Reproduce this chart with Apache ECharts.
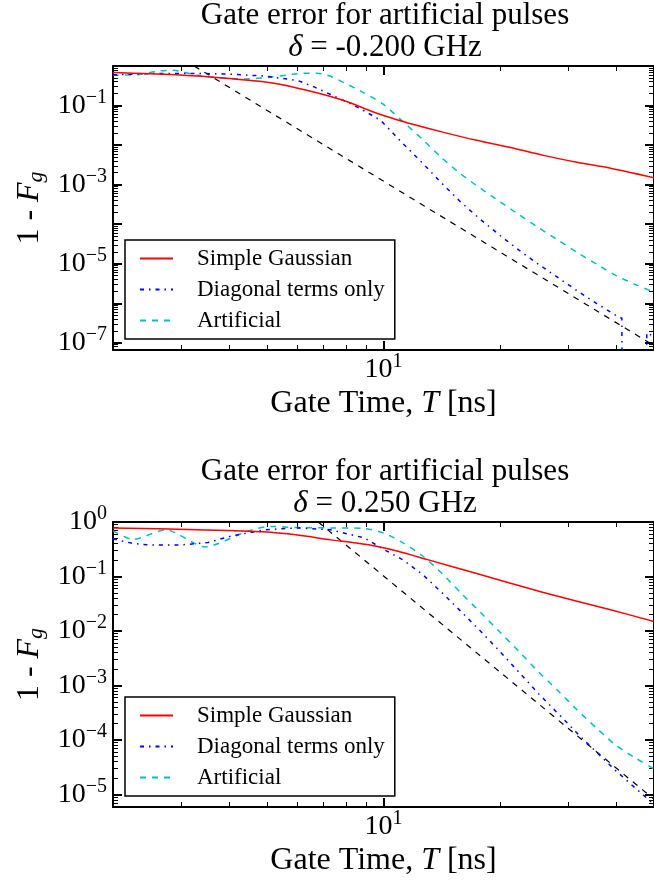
<!DOCTYPE html>
<html>
<head>
<meta charset="utf-8">
<script src="https://cdn.jsdelivr.net/npm/echarts@6/dist/echarts.min.js"></script>
<style>
  html, body { margin: 0; padding: 0; background: #fff; }
  #chart { width: 654px; height: 881px; }
</style>
</head>
<body>
<div id="chart"></div>
<script>
// ---- data: [gate time T (ns), 1 - Fg] ----
const seriesNames = ["Simple Gaussian", "Diagonal terms only", "Artificial"];

// delta = -0.200 GHz
const topGaussian = [
  [2.0, 0.68], [2.5, 0.64], [3.3, 0.56], [4.0, 0.48], [4.9, 0.40], [5.6, 0.32],
  [6.6, 0.22], [7.3, 0.17], [8.1, 0.123], [8.8, 0.089], [9.65, 0.063], [10.9, 0.043],
  [11.7, 0.035], [14.3, 0.021], [17.4, 0.0132], [21.3, 0.0087], [25.9, 0.0055],
  [31.6, 0.0037], [38.6, 0.0026], [50, 0.0015]
];
const topDiagonal = [
  [2.0, 0.60], [2.6, 0.65], [3.3, 0.65], [4.0, 0.62], [4.9, 0.56], [6.0, 0.43],
  [6.6, 0.30], [7.3, 0.19], [8.1, 0.12], [8.8, 0.079], [9.84, 0.042], [10.0, 0.0355],
  [11.2, 0.0112], [12.6, 0.00355], [14.1, 0.00112], [15.8, 3.7e-4], [17.8, 1.32e-4],
  [20.0, 5.2e-5], [22.4, 2.2e-5], [25.1, 9.8e-6], [28.2, 4.5e-6], [31.6, 2.1e-6],
  [35.5, 1.0e-6], [39.8, 5.0e-7], [41.3, 4.2e-7], [41.5, 1e-12], [47.6, 1e-12],
  [47.9, 1.8e-7], [50, 1.45e-7]
];
const topArtificial = [
  [2.0, 0.59], [2.3, 0.60], [2.6, 0.74], [2.86, 0.78], [3.3, 0.58], [3.9, 0.49],
  [4.4, 0.47], [5.1, 0.52], [6.0, 0.64], [6.7, 0.66], [7.3, 0.55], [7.9, 0.38],
  [8.9, 0.21], [10.0, 0.107], [11.2, 0.040], [12.6, 0.0141], [14.1, 0.0049],
  [15.8, 0.0019], [17.8, 8.1e-4], [20.0, 3.7e-4], [22.4, 1.74e-4], [25.1, 8.3e-5],
  [28.2, 4.0e-5], [31.6, 1.95e-5], [35.5, 9.8e-6], [39.8, 5.1e-6], [44.7, 3.0e-6],
  [50, 1.9e-6]
];
const topReference = [[3.24, 1.0], [50, 8.5e-8]];

// delta = 0.250 GHz
const bottomGaussian = [
  [2.0, 0.78], [3.3, 0.72], [4.9, 0.66], [6.0, 0.575], [7.3, 0.47], [8.5, 0.41],
  [9.65, 0.355], [10.9, 0.29], [13.0, 0.204], [17.5, 0.112], [25.9, 0.051],
  [38.6, 0.0245], [50, 0.0150]
];
const bottomDiagonal = [
  [2.0, 0.49], [2.23, 0.41], [2.46, 0.38], [3.0, 0.38], [3.52, 0.42], [4.03, 0.55],
  [4.93, 0.72], [6.0, 0.78], [7.3, 0.72], [8.93, 0.51], [10.0, 0.316], [11.2, 0.204],
  [12.6, 0.110], [14.1, 0.052], [15.8, 0.0234], [17.8, 0.0100], [20.0, 0.0042],
  [22.4, 0.00174], [25.1, 7.2e-4], [28.2, 3.1e-4], [31.6, 1.35e-4], [35.5, 6.0e-5],
  [39.8, 2.75e-5], [44.7, 1.32e-5], [50, 6.6e-6]
];
const bottomArtificial = [
  [2.0, 0.69], [2.25, 0.48], [2.74, 0.72], [3.46, 0.35], [4.46, 0.68], [5.11, 0.83],
  [6.0, 0.79], [7.3, 0.78], [8.93, 0.76], [10.0, 0.63], [11.2, 0.42], [12.6, 0.24],
  [14.1, 0.117], [15.8, 0.051], [17.8, 0.022], [20.0, 0.0095], [22.4, 0.0042],
  [25.1, 0.0018], [28.2, 8.1e-4], [31.6, 3.6e-4], [35.5, 1.66e-4], [39.8, 8.1e-5],
  [44.7, 4.7e-5], [50, 2.95e-5]
];
const bottomReference = [[6.78, 1.0], [50, 8.2e-6]];

// ---- ticks ----
const xMajorTicks = [10];
const xMinorTicks = [3, 4, 5, 6, 7, 8, 9, 20, 30, 40];
const minorMantissas = [2, 3, 4, 5, 6, 7, 8, 9];
const topDecades = [1, 1e-1, 1e-2, 1e-3, 1e-4, 1e-5, 1e-6, 1e-7, 1e-8];
const bottomDecades = [1, 1e-1, 1e-2, 1e-3, 1e-4, 1e-5, 1e-6];
const topYLabels = [1e-1, 1e-3, 1e-5, 1e-7];
const bottomYLabels = [1, 1e-1, 1e-2, 1e-3, 1e-4, 1e-5];

const FONT = "Liberation Serif";

function minorOf(decades) {
  const out = [];
  decades.forEach(d => minorMantissas.forEach(m => out.push(m * d)));
  return out;
}

function powLabel(v) {
  const e = Math.round(Math.log10(v));
  const s = e < 0 ? "\u2212" + (-e) : String(e);
  return "{b|10}{s|" + s + "}";
}

const powRich = {
  b: { fontFamily: FONT, fontSize: 28, color: "#000" },
  s: { fontFamily: FONT, fontSize: 20, color: "#000", padding: [0, 0, 16, 0] },
};

const panels = [
  {
    top: 66, height: 284, yMin: 6.6e-8,
    decades: topDecades, yLabels: topYLabels,
    titleTop: 0, delta: "-0.200", legendTop: 240,
    data: [topGaussian, topDiagonal, topArtificial, topReference],
  },
  {
    top: 522, height: 285, yMin: 5.9e-6,
    decades: bottomDecades, yLabels: bottomYLabels,
    titleTop: 456, delta: "0.250", legendTop: 697,
    data: [bottomGaussian, bottomDiagonal, bottomArtificial, bottomReference],
  },
];

const styles = [
  { color: "#ff0000", type: "solid", smooth: 0.25 },
  { color: "#0000ff", type: [4, 5, 1.5, 5], smooth: false },
  { color: "#00bfbf", type: [6, 6], smooth: 0.25 },
  { color: "#000000", type: [6, 6], smooth: false },
];

const grid = [], xAxis = [], yAxis = [], series = [], legend = [], title = [];

panels.forEach((p, i) => {
  grid.push({ left: 113, top: p.top, width: 544, height: p.height, containLabel: false });

  const xBase = { gridIndex: i, type: "log", min: 2, max: 50, splitLine: { show: false } };
  const lineOn = { show: true, onZero: false, lineStyle: { color: "#000", width: 2 } };
  const major = (vals) => ({ show: true, inside: true, length: 9, customValues: vals,
                             lineStyle: { color: "#000", width: 2 } });
  const minor = (vals) => ({ show: true, inside: true, length: 5, customValues: vals,
                             lineStyle: { color: "#000", width: 1 } });

  xAxis.push({
    ...xBase, position: "bottom", axisLine: lineOn, axisTick: major(xMajorTicks),
    axisLabel: { customValues: xMajorTicks, formatter: powLabel, rich: powRich, margin: 2 },
    name: "Gate Time, {i|T} [ns]", nameLocation: "middle", nameGap: 38,
    nameTextStyle: { fontFamily: FONT, fontSize: 32, color: "#000",
      rich: { i: { fontFamily: FONT, fontSize: 32, fontStyle: "italic", color: "#000" } } },
  });
  xAxis.push({ ...xBase, position: "bottom", axisLine: { show: false },
    axisTick: minor(xMinorTicks), axisLabel: { show: false } });
  xAxis.push({ ...xBase, position: "top", axisLine: lineOn,
    axisTick: major(xMajorTicks), axisLabel: { show: false } });
  xAxis.push({ ...xBase, position: "top", axisLine: { show: false },
    axisTick: minor(xMinorTicks), axisLabel: { show: false } });

  const yBase = { gridIndex: i, type: "log", min: p.yMin, max: 1, splitLine: { show: false } };
  yAxis.push({
    ...yBase, position: "left", axisLine: lineOn, axisTick: major(p.decades),
    axisLabel: { customValues: p.yLabels, formatter: powLabel, rich: powRich, margin: 6 },
    name: "{r|1 - }{i|F}{g|g}", nameLocation: "middle", nameRotate: 90, nameGap: 66,
    nameTextStyle: { rich: {
      r: { fontFamily: FONT, fontSize: 32, color: "#000" },
      i: { fontFamily: FONT, fontSize: 32, fontStyle: "italic", color: "#000" },
      g: { fontFamily: FONT, fontSize: 22, fontStyle: "italic", color: "#000", padding: [12, 0, 0, 0] },
    } },
  });
  yAxis.push({ ...yBase, position: "left", axisLine: { show: false },
    axisTick: minor(minorOf(p.decades)), axisLabel: { show: false } });
  yAxis.push({ ...yBase, position: "right", axisLine: lineOn,
    axisTick: major(p.decades), axisLabel: { show: false } });
  yAxis.push({ ...yBase, position: "right", axisLine: { show: false },
    axisTick: minor(minorOf(p.decades)), axisLabel: { show: false } });

  p.data.forEach((d, k) => {
    const st = styles[k];
    series.push({
      type: "line",
      name: k < 3 ? seriesNames[k] : "reference",
      xAxisIndex: i * 4, yAxisIndex: i * 4,
      data: d,
      symbol: "none",
      smooth: st.smooth,
      clip: true,
      lineStyle: { color: st.color, width: k === 3 ? 1.2 : 1.5, type: st.type },
      itemStyle: { color: st.color },
      z: k === 3 ? 1 : 5 - k,
    });
  });

  legend.push({
    left: 125, top: p.legendTop, orient: "vertical",
    data: seriesNames, selectedMode: false,
    itemWidth: 33, itemHeight: 14, itemGap: 8,
    padding: [7, 10, 7, 14],
    borderColor: "#000", borderWidth: 1.5, borderRadius: 0, backgroundColor: "#fff",
    itemStyle: { opacity: 0 },
    textStyle: { fontFamily: FONT, fontSize: 23, lineHeight: 23, color: "#000", padding: [0, 0, 0, 19] },
  });

  title.push({
    text: "Gate error for artificial pulses\n{i|\u03b4} = " + p.delta + " GHz",
    left: 385, textAlign: "center", top: p.titleTop, padding: 0,
    textStyle: { fontFamily: FONT, fontSize: 31, fontWeight: "normal", color: "#000", lineHeight: 32,
      rich: { i: { fontFamily: FONT, fontSize: 31, fontStyle: "italic", color: "#000", lineHeight: 32 } } },
  });
});

const chart = echarts.init(document.getElementById("chart"), null, { renderer: "canvas" });
chart.setOption({
  animation: false,
  backgroundColor: "#fff",
  title, grid, xAxis, yAxis, legend, series,
});
</script>
</body>
</html>
